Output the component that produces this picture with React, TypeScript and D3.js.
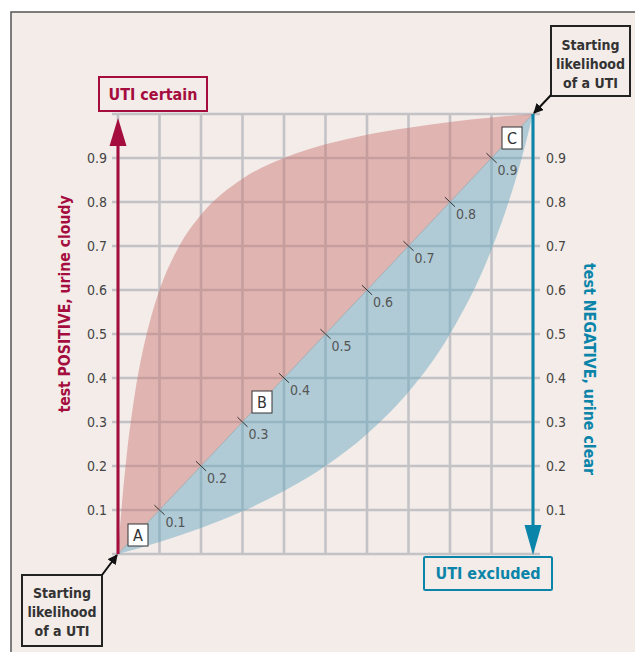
import React, { useEffect } from "react";
import * as d3 from "d3";

const ticks = [0.1, 0.2, 0.3, 0.4, 0.5, 0.6, 0.7, 0.8, 0.9];
const gridSteps = [0, 0.1, 0.2, 0.3, 0.4, 0.5, 0.6, 0.7, 0.8, 0.9, 1];
const positivePrior = [0, 0.01, 0.02, 0.04, 0.06, 0.08, 0.1, 0.15, 0.2, 0.3, 0.4, 0.5, 0.6, 0.7, 0.8, 0.9, 1];
const positivePost = [0, 0.12, 0.216, 0.36, 0.463, 0.54, 0.6, 0.704, 0.771, 0.853, 0.9, 0.931, 0.953, 0.969, 0.982, 0.992, 1];
const negativePrior = [0, 0.1, 0.2, 0.3, 0.4, 0.5, 0.6, 0.7, 0.8, 0.9, 0.95, 0.97, 1];
const negativePost = [0, 0.027, 0.059, 0.097, 0.143, 0.2, 0.273, 0.368, 0.5, 0.692, 0.826, 0.89, 1];
const pointLabels = [
  { name: "A", v: 0.05 },
  { name: "B", v: 0.35 },
  { name: "C", v: 0.95 },
];

const RED = "#a50d3e";
const BLUE = "#0a84a8";
const BG = "#f3ece9";
const GRID = "#c3c3c7";
const FONT = "'DejaVu Sans Condensed', 'Liberation Sans Narrow', 'DejaVu Sans', sans-serif";

export default function App() {
  useEffect(() => {
    document.body.style.margin = "0";
  }, []);
  const W = 635, H = 652;
  const x = d3.scaleLinear().domain([0, 1]).range([118, 533]);
  const y = d3.scaleLinear().domain([0, 1]).range([554, 114]);

  const upper = positivePrior.map((p, i) => [p, positivePost[i]] as [number, number]);
  const lower = negativePrior.map((p, i) => [p, negativePost[i]] as [number, number]);
  const line = d3.line<[number, number]>().x(d => x(d[0])).y(d => y(d[1])).curve(d3.curveMonotoneX);
  const upperPath = line(upper) + "L" + x(1) + "," + y(1) + "L" + x(0) + "," + y(0) + "Z";
  const lowerPath = line(lower) + "L" + x(1) + "," + y(1) + "L" + x(0) + "," + y(0) + "Z";

  const dx = x(1) - x(0), dy = y(1) - y(0);
  const len = Math.hypot(dx, dy);
  const px = -dy / len, py = dx / len;
  const tickHalf = 7;

  return (
    <svg width={W} height={H} style={{ display: "block" }} fontFamily={FONT}>
      <defs>
        <marker id="blackArrow" viewBox="0 0 10 10" refX="9" refY="5" markerWidth="5" markerHeight="5" orient="auto">
          <path d="M0,0 L10,5 L0,10 z" fill="#111" />
        </marker>
      </defs>
      <rect x={0} y={0} width={W} height={H} fill="#fff" />
      <rect x={11} y={12} width={W + 50} height={H + 50} fill={BG} stroke="#555" strokeWidth={1.5} />

      {gridSteps.map(g => (
        <line key={"v" + g} x1={x(g)} x2={x(g)} y1={y(1)} y2={y(0)} stroke={GRID} strokeWidth={2.6} />
      ))}
      {gridSteps.map(g => (
        <line key={"h" + g} x1={112} x2={540} y1={y(g)} y2={y(g)} stroke={GRID} strokeWidth={2.6} />
      ))}

      <path d={upperPath} fill="#c9706c" fillOpacity={0.45} />
      <path d={lowerPath} fill="#5fa3bd" fillOpacity={0.45} />
      <line x1={x(0)} y1={y(0)} x2={x(1)} y2={y(1)} stroke="#9aa8b0" strokeWidth={0.8} />

      {ticks.map(t => (
        <g key={"d" + t}>
          <line x1={x(t) + px * tickHalf} y1={y(t) + py * tickHalf} x2={x(t) - px * tickHalf} y2={y(t) - py * tickHalf}
            stroke="#333" strokeWidth={1} />
          <text x={x(t) + 6} y={y(t) + 17} fontSize={14} fill="#555">{t.toFixed(1)}</text>
        </g>
      ))}

      {ticks.map(t => (
        <text key={"l" + t} x={107} y={y(t) + 5} textAnchor="end" fontSize={14} fill="#444">{t.toFixed(1)}</text>
      ))}
      {ticks.map(t => (
        <text key={"r" + t} x={546} y={y(t) + 5} textAnchor="start" fontSize={14} fill="#444">{t.toFixed(1)}</text>
      ))}

      {pointLabels.map(p => {
        const cx = p.name === "A" ? 138 : p.name === "B" ? 262 : 512;
        const cy = p.name === "A" ? 535 : p.name === "B" ? 402 : 138;
        return (
          <g key={p.name}>
            <rect x={cx - 10} y={cy - 11} width={20} height={22} fill="#fff" stroke="#333" strokeWidth={1} />
            <text x={cx} y={cy + 6} textAnchor="middle" fontSize={16} fill="#333">{p.name}</text>
          </g>
        );
      })}

      <line x1={x(0)} y1={y(0)} x2={x(0)} y2={140} stroke={RED} strokeWidth={3} />
      <path d={`M${x(0)},118 L${x(0) - 8.5},146 L${x(0) + 8.5},146 Z`} fill={RED} />
      <rect x={99} y={77} width={108} height={34} fill={BG} stroke={RED} strokeWidth={2} />
      <text x={153} y={100} textAnchor="middle" fontSize={16} fontWeight="bold" fill={RED}>UTI certain</text>

      <line x1={x(1)} y1={y(1)} x2={x(1)} y2={530} stroke={BLUE} strokeWidth={3} />
      <path d={`M${x(1)},555 L${x(1) - 8.5},525 L${x(1) + 8.5},525 Z`} fill={BLUE} />
      <rect x={424} y={557} width={128} height={33} rx={1.5} fill={BG} stroke={BLUE} strokeWidth={2} />
      <text x={488} y={579} textAnchor="middle" fontSize={16} fontWeight="bold" fill={BLUE}>UTI excluded</text>

      <text transform={`translate(70,304) rotate(-90)`} textAnchor="middle" fontSize={15.6} fontWeight="bold" fill={RED}>test POSITIVE, urine cloudy</text>
      <text transform={`translate(584,369) rotate(90)`} textAnchor="middle" fontSize={15.8} fontWeight="bold" fill={BLUE}>test NEGATIVE, urine clear</text>

      <rect x={551} y={26} width={79} height={70} fill={BG} stroke="#222" strokeWidth={2} />
      {["Starting", "likelihood", "of a UTI"].map((s, i) => (
        <text key={"tr" + i} x={590.5} y={50 + i * 19} textAnchor="middle" fontSize={14} fontWeight="bold" fill="#333">{s}</text>
      ))}
      <line x1={551} y1={95} x2={x(1) + 1} y2={y(1) - 1} stroke="#111" strokeWidth={2} markerEnd="url(#blackArrow)" />

      <rect x={22} y={575} width={80} height={71} fill={BG} stroke="#222" strokeWidth={2} />
      {["Starting", "likelihood", "of a UTI"].map((s, i) => (
        <text key={"bl" + i} x={62} y={598 + i * 19} textAnchor="middle" fontSize={14} fontWeight="bold" fill="#333">{s}</text>
      ))}
      <line x1={102} y1={575} x2={x(0) - 1} y2={y(0) + 1} stroke="#111" strokeWidth={2} markerEnd="url(#blackArrow)" />
    </svg>
  );
}
